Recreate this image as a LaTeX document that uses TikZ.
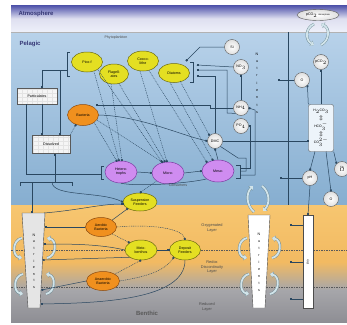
\documentclass[tikz,border=0pt]{standalone}
\usepackage{fontspec}
\setmainfont{Liberation Sans}
\usetikzlibrary{arrows.meta,shapes.geometric,calc}
\definecolor{lineC}{HTML}{2A4760}
\definecolor{yelF}{HTML}{E4DF22}
\definecolor{yelD}{HTML}{6B6A12}
\definecolor{oraF}{HTML}{F0901E}
\definecolor{oraD}{HTML}{8A4A10}
\definecolor{purF}{HTML}{CF8CF0}
\definecolor{purD}{HTML}{7A3AA0}
\definecolor{curlC}{HTML}{D2E4EA}
\definecolor{curlD}{HTML}{6F8C96}
\definecolor{atmD}{HTML}{4B4FA8}
\definecolor{atmL}{HTML}{EEF0FA}
\definecolor{pelT}{HTML}{B8D2EA}
\definecolor{pelB}{HTML}{86AED0}
\definecolor{sedT}{HTML}{F7C670}
\definecolor{sedM}{HTML}{F2BA62}
\definecolor{grayT}{HTML}{A6A6AA}
\definecolor{grayB}{HTML}{8E8E94}
\newcommand\tf{\fontsize{3.6}{4.0}\selectfont}
\newcommand\lf{\fontsize{3.9}{4.5}\selectfont}
\newcommand\hf{\fontsize{6}{7}\selectfont\bfseries}
\begin{document}
\begin{tikzpicture}[x=1pt,y=-1pt,
  cn/.style={draw=lineC, line width=0.5pt},
  sqtip/.style={-{Square[length=1.8pt,width=1.8pt]}},
  dt/.style={draw=lineC, line width=0.45pt, dash pattern=on 0.9pt off 0.9pt},
  ell/.style={ellipse, line width=0.5pt, inner sep=0pt, align=center, font=\tf},
  yel/.style={ell, draw=yelD, fill=yelF},
  ora/.style={ell, draw=oraD, fill=oraF},
  pur/.style={ell, draw=purD, fill=purF},
  circ/.style={circle, draw=gray!70!black, line width=0.4pt, inner color=white, outer color=gray!25, minimum size=15pt, inner sep=0pt, font=\tf, align=center},
  box/.style={rectangle, draw=gray!70!black, line width=0.4pt, fill=gray!8, inner sep=0pt, font=\tf,
     path picture={\draw[gray!22, line width=0.2pt] (path picture bounding box.south west) grid[xstep=5pt,ystep=4pt] (path picture bounding box.north east);}},
  lbl/.style={font=\lf, text=black!70, align=center, inner sep=0pt},
  vert/.style={font=\tf, align=center, inner sep=0pt},
  curl/.style={draw=curlC, line width=1.8pt, -{Triangle[length=3pt,width=5pt]},
     preaction={draw=curlD, line width=2.6pt, -{Triangle[length=3.4pt,width=5.8pt]}}},
  layer/.style={draw=black!65, line width=0.5pt, dash pattern=on 1.5pt off 1pt}
]
\useasboundingbox (0,0) rectangle (347,324);
\fill[white] (0,0) rectangle (347,324);
% backgrounds
\shade[top color=atmD, bottom color=atmL, middle color=atmL!60!atmD!40] (11,5) rectangle (347,32);
\shade[top color=pelT, bottom color=pelB] (11,32) rectangle (347,205);
\draw[gray!60, line width=0.4pt] (11,32) -- (347,32);
\shade[top color=sedT, bottom color=sedM] (11,205) rectangle (347,262);
\shade[top color=sedM, bottom color=grayT] (11,262) rectangle (347,290);
\shade[top color=grayT, bottom color=grayB] (11,290) rectangle (347,322);
\draw[cn] (288,32) -- (288,205);
\draw[layer] (11,250) -- (347,250);
\draw[layer] (11,287) -- (347,287);

% titles
\node[font=\hf, text=atmD!70!black, anchor=west] (atm) at (15,14) {Atmosphere};
\node[font=\hf, text=atmD!70!black, anchor=west] (pel) at (16,44) {Pelagic};
\node[font=\hf, text=black!65] (ben) at (147,313) {Benthic};

% pelagic nodes
\node[lbl, font=\tf] (phylbl) at (116,38) {Phytoplankton};
\node[yel, minimum width=31pt, minimum height=20pt] (picof) at (87,62) {Pico-f};
\node[yel, minimum width=29pt, minimum height=20pt] (flag) at (114,74) {Flagell-\\ates};
\node[yel, minimum width=31pt, minimum height=20pt] (cocco) at (143,61) {Cocco-\\lithe};
\node[yel, minimum width=31pt, minimum height=19pt] (diat) at (174,73) {Diatoms};
\node[box, minimum width=40pt, minimum height=16pt] (part) at (37,96) {Particulates};
\node[box, minimum width=38pt, minimum height=18pt] (diss) at (51,144) {Dissolved};
\node[ora, minimum width=31pt, minimum height=21pt] (bact) at (83,115) {Bacteria};
\node[pur, minimum width=32pt, minimum height=22pt] (het) at (121,172) {Hetero-\\trophs};
\node[pur, minimum width=32pt, minimum height=22pt] (micro) at (168,173) {Micro-};
\node[pur, minimum width=32pt, minimum height=22pt] (meso) at (218,171) {Meso-};
\node[lbl, font=\tf] (conlbl) at (178,185) {Consumers};
\node[circ] (dmc) at (215,141) {DMC};
\node[circ] (si) at (232,47) {Si};
\node[circ] (no3) at (241,67) {NO$_3$};
\node[circ] (nh4) at (241,108) {NH$_4$};
\node[circ] (po4) at (241,126) {PO$_4$};
\node[vert, font=\fontsize{3.6}{7.3}\selectfont] (nutp) at (257,83) {N\\u\\t\\r\\i\\e\\n\\t\\s};
% right column
\node[ellipse, draw=gray!70!black, line width=0.4pt, inner color=white, outer color=gray!25, minimum width=42pt, minimum height=11pt, inner sep=0pt, font=\tf] (pco2a) at (318,15) {pCO$_2$ \fontsize{2.2}{2.5}\selectfont atmosphere};
\node[circ] (pco2) at (321,62) {pCO$_2$};
\node[circ] (oc) at (302,80) {O};
\node[rectangle, rounded corners=2pt, draw=gray!70!black, line width=0.4pt, fill=white!75!pelT, minimum width=25pt, minimum height=47pt, inner sep=0pt, font=\fontsize{3.4}{8}\selectfont, align=center] (carb) at (321,128) {H$_2$CO$_3$\\$\Updownarrow$\\HCO$_3^-$\\$\Updownarrow$\\CO$_3^{2-}$};
\node[circ, font=\fontsize{3}{3.4}\selectfont] (ta) at (342,169) {TA\\$\Omega$};
\node[circ] (ph) at (310,178) {pH};
\node[circ] (ob) at (331,199) {O};

% curls atmosphere
\draw[curl] (314,24) .. controls (305,28) and (305,40) .. (314,45);
\draw[curl] (321,45) .. controls (330,40) and (330,28) .. (321,24);
% curls above middle column
\draw[curl] (254,212) .. controls (246,205) and (246,193) .. (253,186);
\draw[curl] (262,186) .. controls (270,192) and (270,204) .. (263,211);

% sediment columns
\draw[gray!60!black, line width=0.4pt, fill=gray!20] (22,213) -- (45,213) -- (40,308) -- (28,308) -- cycle;
\node[vert, font=\fontsize{3.6}{6.5}\selectfont] (nutl) at (34,261) {N\\u\\t\\r\\i\\e\\n\\t\\s};
\draw[gray!60!black, line width=0.4pt, fill=white] (248,215) -- (270,215) -- (265,308) -- (253,308) -- cycle;
\node[vert, font=\fontsize{3.6}{7}\selectfont] (nutm) at (259,262) {N\\u\\t\\r\\i\\e\\n\\t\\s};
\node[rectangle, draw=gray!60!black, line width=0.4pt, fill=white, minimum width=10pt, minimum height=93pt, inner sep=0pt] (phcol) at (308,261.5) {};
\node[font=\fontsize{3.2}{3.6}\selectfont, rotate=70] (phtxt) at (308,262) {pH};

% curls sediment
\draw[curl] (22,238) .. controls (12,240) and (12,256) .. (22,258);
\draw[curl] (47,258) .. controls (57,256) and (57,240) .. (47,238);
\draw[curl] (23,274) .. controls (13,276) and (13,292) .. (23,294);
\draw[curl] (46,294) .. controls (56,292) and (56,276) .. (46,274);
\draw[curl] (247,238) .. controls (237,240) and (237,256) .. (247,258);
\draw[curl] (272,258) .. controls (282,256) and (282,240) .. (272,238);
\draw[curl] (249,274) .. controls (239,276) and (239,292) .. (249,294);
\draw[curl] (270,294) .. controls (280,292) and (280,276) .. (270,274);

% sediment nodes
\node[yel, minimum width=34pt, minimum height=18pt] (susp) at (140,202) {Suspension\\Feeders};
\node[ora, minimum width=31pt, minimum height=19pt] (aer) at (101,227) {Aerobic\\Bacteria};
\node[yel, minimum width=32pt, minimum height=20pt] (meio) at (141,250) {Meio-\\benthos};
\node[yel, minimum width=31pt, minimum height=20pt] (depo) at (185,250) {Deposit\\Feeders};
\node[ora, minimum width=33pt, minimum height=19pt] (anaer) at (103,281) {Anaerobic\\Bacteria};
\node[lbl] (oxy) at (212,228) {Oxygenated\\Layer};
\node[lbl] (redox) at (212,267) {Redox\\Discontinuity\\Layer};
\node[lbl] (red) at (207,307) {Reduced\\Layer};

% brackets
\draw[cn] (70,52) -- (67,52) -- (67,76) -- (70,76);
\draw[cn] (190,62) -- (193,62) -- (193,82) -- (190,82);
\draw[cn] (104,166) -- (101,166) -- (101,179) -- (104,179);
\draw[cn] (236,165) -- (240,165) -- (240,178) -- (236,178);
\draw[cn] (20,186) -- (20,182) -- (72,182) -- (72,186);

% left network
\draw[cn,sqtip] (67,70) -- (42,70) -- (42,87.5);
\draw[cn,sqtip] (60,70) -- (60,134.5);
\draw[cn,sqtip] (42,104) -- (42,134.5);
\draw[cn] (26,104) -- (26,174) -- (101,174);
\draw[cn,sqtip] (55,182) -- (55,153.5);
\draw[cn,sqtip] (32,182) -- (32,212.5);
\draw[cn,sqtip] (52,182) .. controls (52,197) and (100,191) .. (susp.west);
\draw[dt,sqtip] (diss.north east) -- (76,124.5);
\draw[cn,sqtip] (nh4.west) -- (210,108) -- (210,105) -- (96,105);
\draw[cn,sqtip] (bact.east) .. controls (140,116) and (180,135) .. (dmc.west);
% dotted feeding lines
\draw[dt,sqtip] (bact.south east) -- (117,161.5);
\draw[dt,sqtip] (97,120) -- (163,162.5);
\draw[dt,sqtip] (94,71.5) -- (119,161);
\draw[dt,sqtip] (98,70) -- (162,162);
\draw[dt,sqtip] (111,84) -- (122,161);
\draw[dt,sqtip] (119,83.5) -- (165,162);
\draw[dt,sqtip] (140,71) -- (167,162);
\draw[dt,sqtip] (149,70.5) -- (207,162.5);
\draw[dt,sqtip] (170,82.5) -- (213,160.5);
\draw[dt,sqtip] (180,81) -- (dmc.north west);
% nutrients
\draw[cn,sqtip] (si.west) -- (200,47) -- (186,61);
\draw[cn,sqtip] (no3.west) -- (197,65);
\draw[cn,sqtip] (nh4.south west) -- (227,113) -- (227,70) -- (197,70);
\draw[cn,sqtip] (dmc.north) |- (197,76);
\draw[cn,sqtip] (nh4.north) -- (no3.south);
\draw[cn,sqtip] (240,168) -- (250,168) -- (250,126) -- (po4.east);
\draw[cn,sqtip] (240,175) -- (255,175) -- (255,110) -- (nh4.east);
\draw[cn] (dmc.south east) -- (238,158) -- (246,158) -- (246,171) -- (240,171);
% consumers
\draw[cn,sqtip] (meso.north) -- (dmc.south);
\draw[cn,sqtip] (het.east) -- (micro.west);
\draw[cn,sqtip] (micro.east) -- (meso.west);
\draw[cn] (het.south) .. controls (140,187) and (190,183) .. (meso.south west);
\draw[dt,sqtip] (micro.south west) -- (susp.north);
% right column
\draw[cn,sqtip] (dmc.east) -- (carb.west |- dmc.east);
\draw[cn,sqtip] (oc.west) -- (278,80);
\draw[cn,sqtip] (pco2.south |- carb.north) -- (pco2.south);
\draw[cn,sqtip] (carb.north west) -- (oc.south east);
\draw[cn,sqtip] (315,151.5) -- (ph.north);
\draw[cn,sqtip] (carb.south east) -- (ta.north west);
\draw[cn,sqtip] (326,151.5) -- (ob.north);
\draw[cn,sqtip] (ph.west) -- (280,178);
\draw[cn,sqtip] (ph.south) -- (phcol.north);
\draw[cn,sqtip] (303,225) -- (290,225);
\draw[cn,sqtip] (303,262) -- (290,262);
\draw[cn,sqtip] (303,299) -- (290,299);
% sediment network
\draw[cn,sqtip] (44,213) .. controls (80,210) and (100,204) .. (123,204);
\draw[cn,sqtip] (aer.north east) -- (susp.south west);
\draw[cn,sqtip] (aer.west) -- (44.5,227);
\draw[dt,sqtip] (aer.south east) -- (meio.north west);
\draw[dt,sqtip] (aer.east) .. controls (150,224) and (182,228) .. (depo.north);
\draw[cn,sqtip] (meio.east) -- (depo.west);
\draw[cn,sqtip] (meio.west) .. controls (100,244) and (70,244) .. (43.5,244);
\draw[cn,sqtip] (meio.south west) -- (42.7,260);
\draw[dt,sqtip] (anaer.north east) -- (meio.south);
\draw[dt,sqtip] (anaer.east) .. controls (150,276) and (165,270) .. (depo.south west);
\draw[cn,sqtip] (anaer.west) -- (41.5,290);
\draw[cn,sqtip] (depo.south) .. controls (185,300) and (100,303) .. (41,304);
\end{tikzpicture}
\end{document}
